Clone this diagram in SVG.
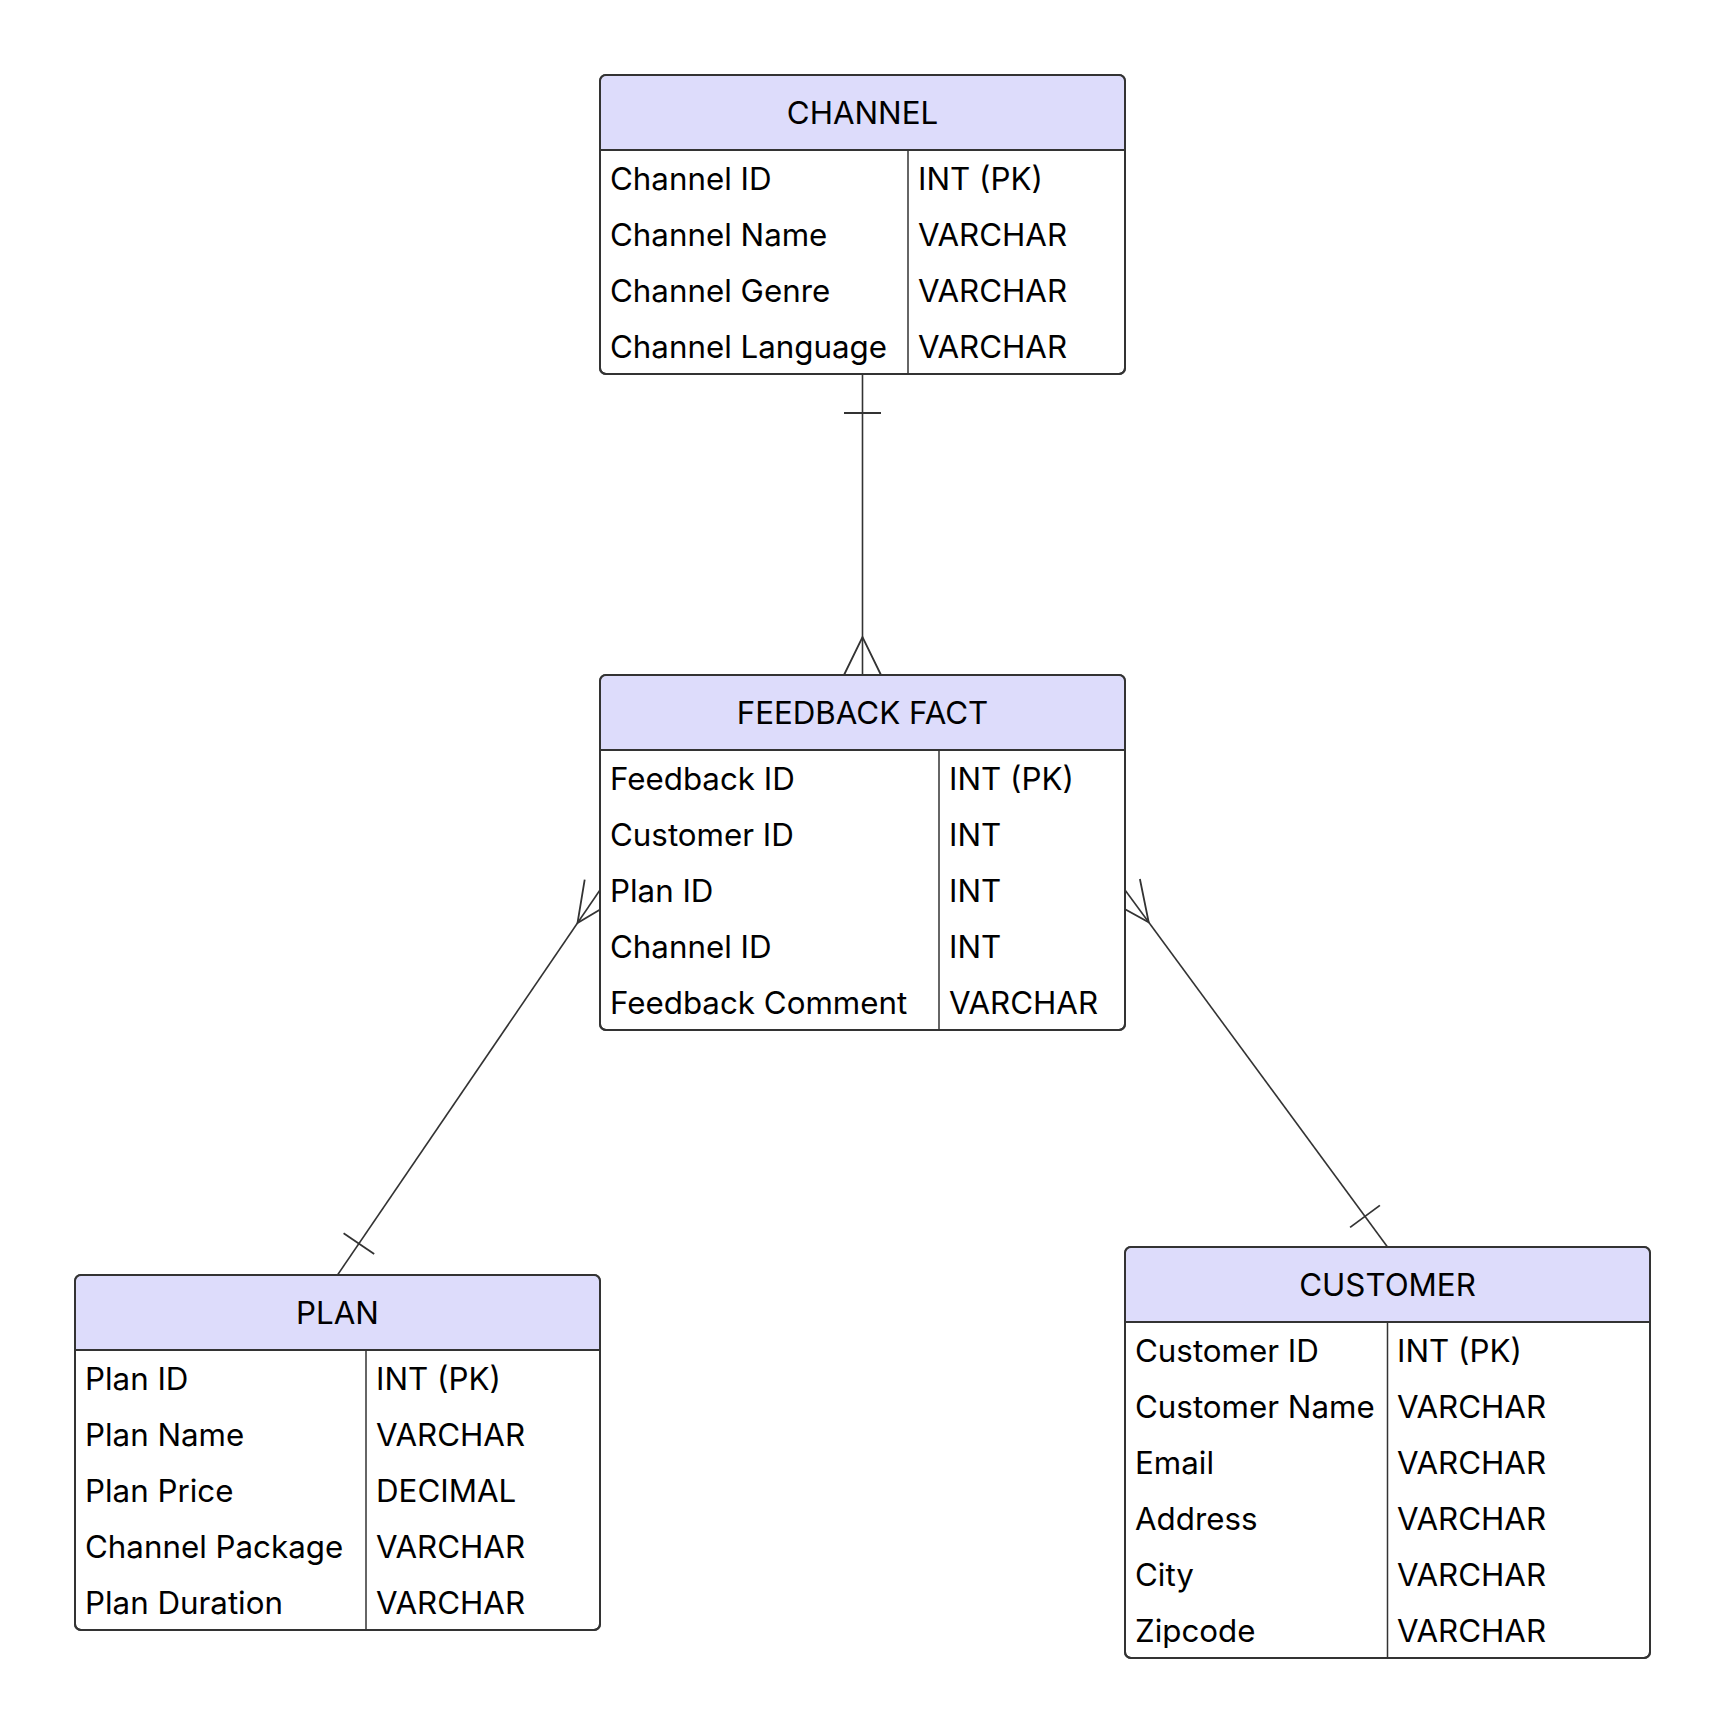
<svg xmlns="http://www.w3.org/2000/svg" width="1725" height="1734" viewBox="0 0 1725 1734">
<style>
.box{fill:#ffffff;stroke:#333333;stroke-width:2}
.hdr{fill:#dddcfb;stroke:none}
.sep{stroke:#333333;stroke-width:2}
.div{stroke:#333333;stroke-width:1.5}
.t{font-family:Inter,"Noto Sans",sans-serif;font-size:31.3px;fill:#000000}
.h{font-family:Inter,"Noto Sans",sans-serif;font-size:31.3px;fill:#000000;text-anchor:middle}
.edge{stroke:#333333;stroke-width:1.6;fill:none}
.mk{stroke:#333333;stroke-width:1.8;fill:none}
</style>
<rect x="0" y="0" width="1725" height="1734" fill="#ffffff"/>

<g id="connectors">
  <!-- CHANNEL to FEEDBACK FACT -->
  <line class="edge" x1="862.5" y1="374" x2="862.5" y2="675"/>
  <line class="mk" x1="844" y1="413" x2="881" y2="413"/>
  <polyline class="mk" points="844,675 862.5,637 881,675"/>
  <!-- PLAN to FEEDBACK FACT -->
  <line class="edge" x1="337.5" y1="1275" x2="600" y2="890"/>
  <line class="mk" x1="343.6" y1="1233.2" x2="374.2" y2="1254"/>
  <polyline class="mk" points="584.7,879.6 577.5,923 615.3,900.4"/>
  <!-- CUSTOMER to FEEDBACK FACT -->
  <line class="edge" x1="1387.5" y1="1247" x2="1125" y2="890"/>
  <line class="mk" x1="1350.1" y1="1227.4" x2="1379.9" y2="1205.4"/>
  <polyline class="mk" points="1139.9,879 1148.7,922.2 1110.1,901"/>
</g>

<g id="node-channel">
  <rect class="box" x="600" y="75" width="525" height="299" rx="6"/>
  <path class="hdr" d="M601,150 V81 Q601,76 606,76 H1119 Q1124,76 1124,81 V150 Z"/>
  <rect x="600" y="75" width="525" height="299" rx="6" fill="none" stroke="#333333" stroke-width="2"/>
  <line class="sep" x1="600" y1="150" x2="1125" y2="150"/>
  <line class="div" x1="908" y1="150" x2="908" y2="374"/>
  <text class="h" x="862.5" y="124">CHANNEL</text>
  <text class="t" x="610" y="190">Channel ID</text>
  <text class="t" x="918" y="190">INT (PK)</text>
  <text class="t" x="610" y="246">Channel Name</text>
  <text class="t" x="918" y="246">VARCHAR</text>
  <text class="t" x="610" y="302">Channel Genre</text>
  <text class="t" x="918" y="302">VARCHAR</text>
  <text class="t" x="610" y="358">Channel Language</text>
  <text class="t" x="918" y="358">VARCHAR</text>
</g>

<g id="node-feedback-fact">
  <rect class="box" x="600" y="675" width="525" height="355" rx="6"/>
  <path class="hdr" d="M601,750 V681 Q601,676 606,676 H1119 Q1124,676 1124,681 V750 Z"/>
  <rect x="600" y="675" width="525" height="355" rx="6" fill="none" stroke="#333333" stroke-width="2"/>
  <line class="sep" x1="600" y1="750" x2="1125" y2="750"/>
  <line class="div" x1="939" y1="750" x2="939" y2="1030"/>
  <text class="h" x="862.5" y="724">FEEDBACK FACT</text>
  <text class="t" x="610" y="790">Feedback ID</text>
  <text class="t" x="949" y="790">INT (PK)</text>
  <text class="t" x="610" y="846">Customer ID</text>
  <text class="t" x="949" y="846">INT</text>
  <text class="t" x="610" y="902">Plan ID</text>
  <text class="t" x="949" y="902">INT</text>
  <text class="t" x="610" y="958">Channel ID</text>
  <text class="t" x="949" y="958">INT</text>
  <text class="t" x="610" y="1014">Feedback Comment</text>
  <text class="t" x="949" y="1014">VARCHAR</text>
</g>

<g id="node-plan">
  <rect class="box" x="75" y="1275" width="525" height="355" rx="6"/>
  <path class="hdr" d="M76,1350 V1281 Q76,1276 81,1276 H594 Q599,1276 599,1281 V1350 Z"/>
  <rect x="75" y="1275" width="525" height="355" rx="6" fill="none" stroke="#333333" stroke-width="2"/>
  <line class="sep" x1="75" y1="1350" x2="600" y2="1350"/>
  <line class="div" x1="366" y1="1350" x2="366" y2="1630"/>
  <text class="h" x="337.5" y="1324">PLAN</text>
  <text class="t" x="85" y="1390">Plan ID</text>
  <text class="t" x="376" y="1390">INT (PK)</text>
  <text class="t" x="85" y="1446">Plan Name</text>
  <text class="t" x="376" y="1446">VARCHAR</text>
  <text class="t" x="85" y="1502">Plan Price</text>
  <text class="t" x="376" y="1502">DECIMAL</text>
  <text class="t" x="85" y="1558">Channel Package</text>
  <text class="t" x="376" y="1558">VARCHAR</text>
  <text class="t" x="85" y="1614">Plan Duration</text>
  <text class="t" x="376" y="1614">VARCHAR</text>
</g>

<g id="node-customer">
  <rect class="box" x="1125" y="1247" width="525" height="411" rx="6"/>
  <path class="hdr" d="M1126,1322 V1253 Q1126,1248 1131,1248 H1644 Q1649,1248 1649,1253 V1322 Z"/>
  <rect x="1125" y="1247" width="525" height="411" rx="6" fill="none" stroke="#333333" stroke-width="2"/>
  <line class="sep" x1="1125" y1="1322" x2="1650" y2="1322"/>
  <line class="div" x1="1387.5" y1="1322" x2="1387.5" y2="1658"/>
  <text class="h" x="1387.5" y="1296">CUSTOMER</text>
  <text class="t" x="1135" y="1362">Customer ID</text>
  <text class="t" x="1397" y="1362">INT (PK)</text>
  <text class="t" x="1135" y="1418">Customer Name</text>
  <text class="t" x="1397" y="1418">VARCHAR</text>
  <text class="t" x="1135" y="1474">Email</text>
  <text class="t" x="1397" y="1474">VARCHAR</text>
  <text class="t" x="1135" y="1530">Address</text>
  <text class="t" x="1397" y="1530">VARCHAR</text>
  <text class="t" x="1135" y="1586">City</text>
  <text class="t" x="1397" y="1586">VARCHAR</text>
  <text class="t" x="1135" y="1642">Zipcode</text>
  <text class="t" x="1397" y="1642">VARCHAR</text>
</g>
</svg>
